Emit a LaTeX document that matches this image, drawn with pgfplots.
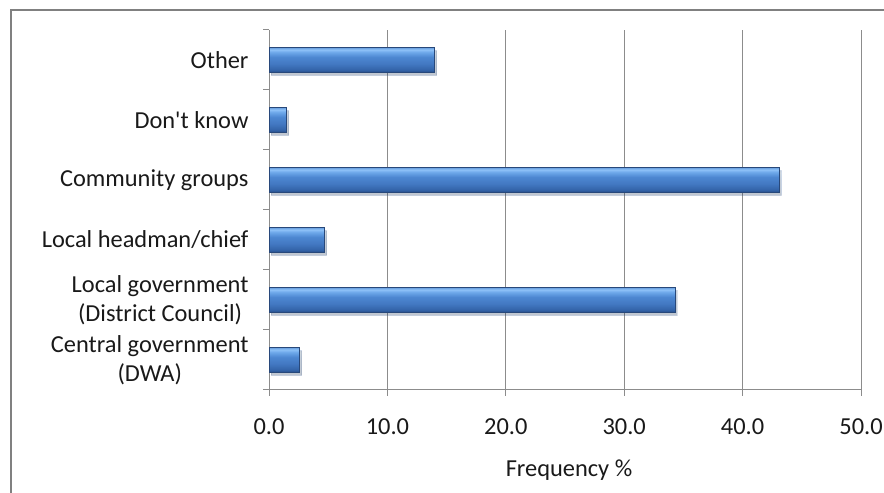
\documentclass[border=0pt]{standalone}
\usepackage{pgfplots}
\pgfplotsset{compat=1.18}
\usepackage{fontspec}
\setmainfont{Carlito}
\usetikzlibrary{shadows}

\definecolor{axisgray}{RGB}{140,140,140}
\definecolor{framegray}{RGB}{128,128,128}
\definecolor{baredge}{RGB}{40,72,122}
\definecolor{txt}{RGB}{25,25,25}

% glossy vertical bar shading (stops 25bp..75bp span the bar height)
\pgfdeclareverticalshading{barshade}{100bp}{%
  rgb(0bp)=(0.15,0.31,0.55);
  rgb(25bp)=(0.15,0.31,0.55);
  rgb(30bp)=(0.20,0.39,0.66);
  rgb(42bp)=(0.26,0.47,0.76);
  rgb(56bp)=(0.30,0.53,0.82);
  rgb(66bp)=(0.43,0.66,0.92);
  rgb(71bp)=(0.56,0.76,0.97);
  rgb(75bp)=(0.42,0.63,0.88);
  rgb(100bp)=(0.42,0.63,0.88)}

\pgfplotsset{
  glossybar/.style={xbar, bar shift=0pt, bar width=24.5bp,
    draw=baredge, line width=0.6bp, shading=barshade,
    drop shadow={shadow xshift=2bp, shadow yshift=-3bp, opacity=0.15, fill=black}},
}

\begin{document}
\begin{tikzpicture}[x=1bp,y=1bp]
\useasboundingbox (0,0) rectangle (884,493);
% outer frame
\draw[framegray, line width=1.5bp] (10,483) -- (884,483);
\draw[framegray, line width=2.5bp] (11,483) -- (11,0);
\begin{axis}[
  at={(269bp,103bp)}, anchor=south west,
  scale only axis, width=592bp, height=360bp,
  xmin=0, xmax=50, ymin=-0.5, ymax=5.5,
  axis x line*=bottom, axis y line*=left,
  axis line style={-, axisgray, line width=1bp},
  xtick={0,10,...,50},
  ytick={0,...,5},
  yticklabels={{Central government\\(DWA)},{Local government\\(District Council)},{Local headman/chief},{Community groups},{Don\textquotesingle t know},{Other}},
  minor ytick={-0.5,0.5,...,5.5},
  tick align=outside,
  major tick length=6bp, minor tick length=6bp,
  tick style={axisgray, line width=1bp},
  major y tick style={draw=none},
  xmajorgrids,
  grid style={axisgray, line width=1bp},
  /pgf/number format/assume math mode=true,
  xticklabel style={/pgf/number format/fixed, /pgf/number format/fixed zerofill, /pgf/number format/precision=1, yshift=-19bp},
  tick label style={font=\fontsize{24.5}{29}\selectfont, text=txt},
  yticklabel style={align=center, xshift=-11bp},
  xlabel={Frequency \%},
  every axis x label/.style={at={(axis description cs:0.5,0)}, anchor=center, yshift=-80bp, xshift=4bp, font=\fontsize{24.5}{29}\selectfont, text=txt},
]
% Frequency % per response
\addplot[glossybar] coordinates {(2.6,0)};  % Central government (DWA)
\addplot[glossybar] coordinates {(34.3,1)}; % Local government (District Council)
\addplot[glossybar] coordinates {(4.7,2)};  % Local headman/chief
\addplot[glossybar] coordinates {(43.1,3)}; % Community groups
\addplot[glossybar] coordinates {(1.5,4)};  % Don't know
\addplot[glossybar] coordinates {(14.0,5)}; % Other
\end{axis}
\end{tikzpicture}
\end{document}
